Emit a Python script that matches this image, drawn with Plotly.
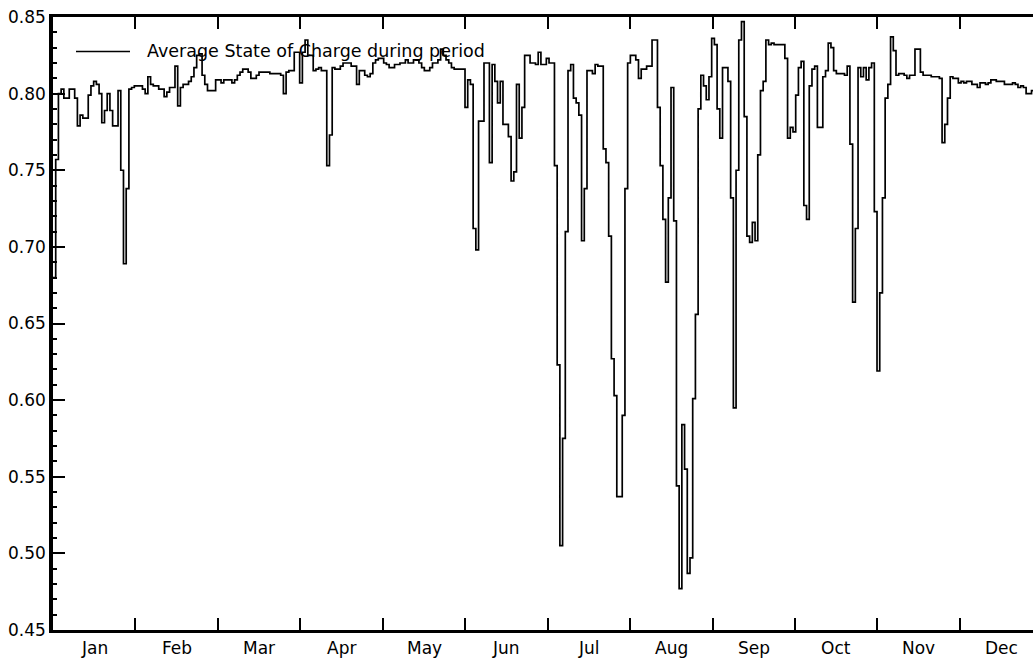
import plotly.graph_objects as go

# Average state of charge for each daily period of the year (fraction of capacity)
avg_soc = [
    0.680, 0.757, 0.800, 0.803, 0.797, 0.797, 0.803, 0.803, 0.797, 0.779,
    0.786, 0.784, 0.784, 0.799, 0.805, 0.808, 0.806, 0.800, 0.781, 0.789,
    0.800, 0.789, 0.779, 0.779, 0.802, 0.750, 0.689, 0.738, 0.803, 0.804,
    0.805, 0.805, 0.805, 0.803, 0.800, 0.811, 0.806, 0.805, 0.805, 0.803,
    0.803, 0.798, 0.801, 0.804, 0.804, 0.818, 0.792, 0.804, 0.806, 0.806,
    0.808, 0.811, 0.817, 0.825, 0.826, 0.812, 0.806, 0.802, 0.802, 0.802,
    0.809, 0.809, 0.807, 0.809, 0.809, 0.809, 0.807, 0.809, 0.812, 0.814,
    0.816, 0.816, 0.814, 0.810, 0.810, 0.812, 0.814, 0.814, 0.814, 0.814,
    0.813, 0.813, 0.813, 0.813, 0.812, 0.800, 0.814, 0.815, 0.815, 0.827,
    0.827, 0.807, 0.827, 0.835, 0.825, 0.825, 0.815, 0.816, 0.817, 0.815,
    0.815, 0.753, 0.773, 0.817, 0.816, 0.816, 0.818, 0.820, 0.820, 0.820,
    0.818, 0.818, 0.806, 0.815, 0.815, 0.812, 0.811, 0.813, 0.820, 0.822,
    0.823, 0.823, 0.820, 0.819, 0.817, 0.817, 0.819, 0.819, 0.820, 0.820,
    0.822, 0.820, 0.820, 0.822, 0.822, 0.820, 0.817, 0.815, 0.815, 0.817,
    0.820, 0.820, 0.822, 0.829, 0.825, 0.822, 0.820, 0.817, 0.816, 0.816,
    0.816, 0.816, 0.791, 0.809, 0.806, 0.712, 0.698, 0.782, 0.782, 0.820,
    0.820, 0.755, 0.819, 0.808, 0.794, 0.808, 0.780, 0.780, 0.772, 0.743,
    0.749, 0.806, 0.771, 0.791, 0.825, 0.825, 0.820, 0.820, 0.819, 0.827,
    0.819, 0.819, 0.823, 0.820, 0.820, 0.753, 0.623, 0.505, 0.575, 0.710,
    0.815, 0.819, 0.797, 0.794, 0.786, 0.704, 0.738, 0.815, 0.815, 0.813,
    0.819, 0.818, 0.818, 0.764, 0.755, 0.707, 0.627, 0.603, 0.537, 0.537,
    0.590, 0.738, 0.820, 0.825, 0.825, 0.822, 0.810, 0.816, 0.816, 0.818,
    0.818, 0.835, 0.835, 0.791, 0.753, 0.718, 0.677, 0.732, 0.804, 0.717,
    0.544, 0.477, 0.584, 0.555, 0.487, 0.497, 0.601, 0.656, 0.790, 0.812,
    0.805, 0.796, 0.811, 0.836, 0.832, 0.790, 0.771, 0.817, 0.817, 0.808,
    0.732, 0.595, 0.750, 0.835, 0.847, 0.785, 0.707, 0.703, 0.716, 0.704,
    0.760, 0.802, 0.808, 0.835, 0.832, 0.833, 0.832, 0.832, 0.832, 0.832,
    0.823, 0.771, 0.778, 0.775, 0.799, 0.817, 0.821, 0.727, 0.718, 0.805,
    0.816, 0.818, 0.778, 0.778, 0.811, 0.815, 0.833, 0.830, 0.815, 0.813,
    0.813, 0.813, 0.812, 0.818, 0.767, 0.664, 0.712, 0.817, 0.811, 0.817,
    0.809, 0.817, 0.820, 0.723, 0.619, 0.670, 0.732, 0.797, 0.806, 0.837,
    0.828, 0.812, 0.813, 0.813, 0.812, 0.810, 0.812, 0.812, 0.829, 0.829,
    0.814, 0.812, 0.812, 0.812, 0.811, 0.811, 0.811, 0.810, 0.768, 0.780,
    0.797, 0.811, 0.810, 0.810, 0.807, 0.808, 0.807, 0.808, 0.808, 0.806,
    0.806, 0.804, 0.807, 0.807, 0.806, 0.807, 0.809, 0.809, 0.808, 0.808,
    0.808, 0.806, 0.806, 0.806, 0.807, 0.806, 0.804, 0.805, 0.804, 0.800,
    0.800, 0.802, 0.801, 0.800, 0.800,
]

months = ["Jan", "Feb", "Mar", "Apr", "May", "Jun",
          "Jul", "Aug", "Sep", "Oct", "Nov", "Dec"]

series_name = "Average State of Charge during period"

DAYS = 365
month_len = DAYS / 12
month_edges = [k * month_len for k in range(13)]
month_mids = [(k + 0.5) * month_len for k in range(12)]

# period start days; the final point closes the last step
days = list(range(len(avg_soc) + 1))
soc_steps = avg_soc + [avg_soc[-1]]

FONT = dict(family="DejaVu Sans", size=17, color="black")
W, H = 1033, 660
ML, MR, MT, MB = 53, 0, 17, 30
px_per_day = 2.7106
x_max = (W - ML - MR) / px_per_day

fig = go.Figure()
fig.add_trace(go.Scatter(
    x=days, y=soc_steps, mode="lines", name=series_name,
    line=dict(shape="hv", color="black", width=1.7),
    showlegend=False,
))

# legend drawn as a sample line plus label
plot_w = W - ML - MR
plot_h = H - MT - MB
leg_y = (H - MB - 51.5) / plot_h
fig.add_shape(type="line", xref="paper", yref="paper",
              x0=(76 - ML) / plot_w, x1=(130 - ML) / plot_w,
              y0=leg_y, y1=leg_y, line=dict(color="black", width=1.3))
fig.add_annotation(xref="paper", yref="paper", x=(145 - ML) / plot_w, y=leg_y,
                   xanchor="left", yanchor="middle", text=series_name,
                   showarrow=False, font=dict(FONT, size=17.5))

# month names centred between the month boundary ticks
for mid, name in zip(month_mids, months):
    fig.add_annotation(xref="x", yref="paper", x=mid, y=0, yshift=-18,
                       xanchor="center", yanchor="middle", text=name,
                       showarrow=False, font=FONT)

fig.update_layout(
    width=W, height=H,
    margin=dict(l=ML, r=MR, t=MT, b=MB, pad=0),
    paper_bgcolor="white", plot_bgcolor="white",
    font=FONT,
    xaxis=dict(
        range=[0, x_max], tickmode="array", tickvals=month_edges,
        ticktext=[""] * len(month_edges), ticks="inside", ticklen=12,
        tickwidth=1.5, tickcolor="black", showline=True, linecolor="black",
        linewidth=3, mirror="ticks", showgrid=False, zeroline=False,
    ),
    yaxis=dict(
        range=[0.45, 0.85], tickmode="linear", tick0=0.45, dtick=0.05,
        tickformat=".2f", ticks="inside", ticklen=12, tickwidth=1.5,
        tickcolor="black", showline=True, linecolor="black", linewidth=3.5,
        showgrid=False, zeroline=False, tickfont=FONT,
        minor=dict(tick0=0.45, dtick=0.01, ticks="inside", ticklen=4,
                   tickwidth=1.5, tickcolor="black", showgrid=False),
    ),
    yaxis2=dict(
        overlaying="y", anchor="x", side="right", range=[0.45, 0.85],
        tickmode="linear", tick0=0.45, dtick=0.05, ticks="inside", ticklen=4,
        tickwidth=1.5, tickcolor="black", showticklabels=False,
        showline=False, showgrid=False, zeroline=False,
    ),
)

fig.write_html("out.html")
